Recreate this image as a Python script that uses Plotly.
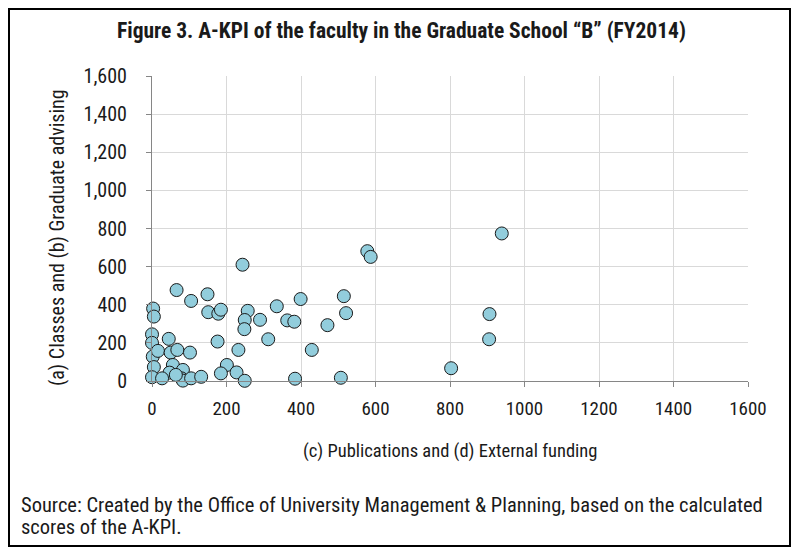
import plotly.graph_objects as go

x_vals = [3, 5, 0, 0, 2, 5, 0, 45, 16, 50, 68, 102, 56, 83, 47, 27, 79, 83, 105, 132, 64,
          66, 105, 149, 151, 178, 185, 257, 249, 290, 248, 335, 312, 176, 232, 201, 227, 185,
          249, 243, 399, 515, 521, 363, 382, 471, 429, 384, 507, 939, 578, 587, 906, 905, 803]
y_vals = [380, 338, 245, 200, 128, 73, 20, 221, 158, 149, 163, 149, 84, 58, 44, 14, 14, 2, 14, 22, 32,
          477, 420, 455, 361, 353, 374, 368, 320, 321, 272, 392, 219, 207, 163, 84, 45, 40,
          1, 610, 430, 445, 356, 318, 311, 293, 163, 12, 17, 774, 681, 651, 351, 219, 67]

x_ticks = [0, 200, 400, 600, 800, 1000, 1200, 1400, 1600]
y_ticks = [0, 200, 400, 600, 800, 1000, 1200, 1400, 1600]

title_text = "Figure 3. A-KPI of the faculty in the Graduate School \u201cB\u201d (FY2014)"
x_title = "(c) Publications and (d) External funding"
y_title = "(a) Classes and (b) Graduate advising"
source_lines = ["Source: Created by the Office of University Management &amp; Planning, based on the calculated",
                "scores of the A-KPI."]

FONT = "Roboto Condensed, Roboto, sans-serif"
TXT = "#1a1a1a"
W, H = 801, 554
# layout coords (page body margin shifts everything by 8px on screen)
L, T = 144, 68
pw, ph = 596, 305
R, B = W - L - pw, H - T - ph

def px(xl):
    return (xl - L) / pw

def py(yl):
    return (T + ph - yl) / ph

fig = go.Figure()
fig.add_trace(go.Scatter(
    x=x_vals, y=y_vals, mode="markers", cliponaxis=False,
    marker=dict(size=13, color="#92CDDC", line=dict(color="#1a1a1a", width=1)),
    showlegend=False, hoverinfo="x+y"))

annotations = [
    dict(text="<b>" + title_text + "</b>", xref="paper", yref="paper",
         x=px(393), y=py(22), xanchor="center", yanchor="middle", showarrow=False,
         font=dict(size=21.5, family=FONT, color=TXT)),
    dict(text=x_title, xref="paper", yref="paper",
         x=px(L + pw / 2), y=py(443), xanchor="center", yanchor="middle", showarrow=False,
         font=dict(size=18.5, family=FONT, color=TXT)),
    dict(text=y_title, xref="paper", yref="paper", textangle=-90,
         x=px(49), y=py(230), xanchor="center", yanchor="middle", showarrow=False,
         font=dict(size=20, family=FONT, color=TXT)),
]
for i, line in enumerate(source_lines):
    annotations.append(dict(text=line, xref="paper", yref="paper",
                            x=px(11), y=py(497 + 22 * i), xanchor="left", yanchor="middle",
                            showarrow=False, align="left",
                            font=dict(size=20.5, family=FONT, color=TXT)))

fig.update_layout(
    width=W, height=H,
    margin=dict(l=L, r=R, t=T, b=B),
    paper_bgcolor="white", plot_bgcolor="white",
    font=dict(family=FONT, size=19, color=TXT),
    xaxis=dict(range=[0, 1600], tickvals=x_ticks, ticktext=[str(v) for v in x_ticks],
               showgrid=True, gridcolor="#D9D9D9", gridwidth=1,
               showline=True, linecolor="#868686", linewidth=1,
               ticks="outside", ticklen=5, tickcolor="#868686",
               zeroline=False, tickfont=dict(size=19, color=TXT), ticklabelstandoff=5),
    yaxis=dict(range=[0, 1600], tickvals=y_ticks, ticktext=[f"{v:,}" for v in y_ticks],
               showgrid=True, gridcolor="#D9D9D9", gridwidth=1,
               showline=True, linecolor="#868686", linewidth=1,
               ticks="outside", ticklen=5, tickcolor="#868686",
               zeroline=False, tickfont=dict(size=20, color=TXT), ticklabelstandoff=15),
    shapes=[dict(type="rect", xref="paper", yref="paper",
                 x0=px(1), x1=px(782), y0=py(538), y1=py(1),
                 line=dict(color="black", width=2), fillcolor="rgba(0,0,0,0)", layer="below")],
    annotations=annotations,
)

fig.write_html("out.html")
